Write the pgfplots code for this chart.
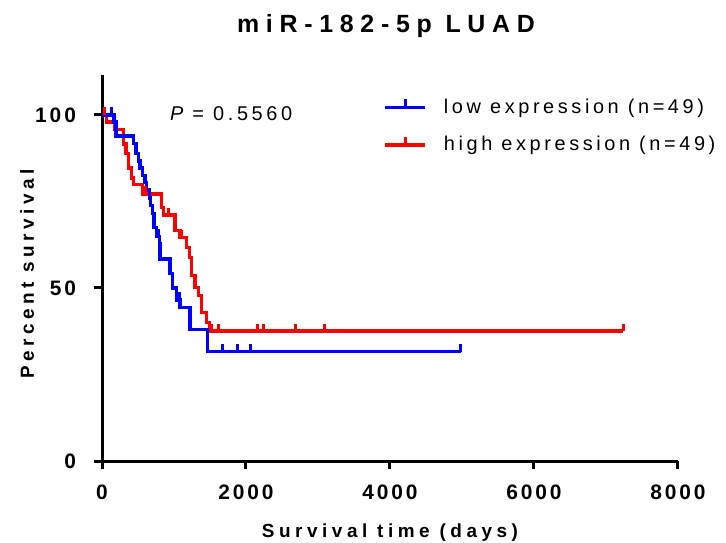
\documentclass[border=0pt]{standalone}
\usepackage{pgfplots}
\pgfplotsset{compat=1.18}
\usepackage{fontspec}
\setmainfont{Liberation Sans}
\newfontfamily\lsfont[LetterSpace=24]{Liberation Sans}
\newfontfamily\ttlfont[LetterSpace=27]{Liberation Sans}
\newfontfamily\tkfont[LetterSpace=14]{Liberation Sans}
\newfontfamily\lgfont[LetterSpace=18]{Liberation Sans}

% censored patients: short upward tick
\pgfdeclareplotmark{cens}{%
  \pgfpathmoveto{\pgfpointorigin}%
  \pgfpathlineto{\pgfpoint{0pt}{3.8bp}}%
  \pgfusepathqstroke}

\begin{document}
\begin{tikzpicture}
\useasboundingbox (-51bp,-41bp) rectangle (312bp,230.5bp);
\begin{axis}[
  at={(0,0)}, anchor=south west,
  scale only axis, width=288bp, height=193bp,
  xmin=0, xmax=8000, ymin=0, ymax=111.5,
  axis lines=left,
  axis line style={line width=1.5bp, -},
  xtick={0,2000,4000,6000,8000}, ytick={0,50,100},
  tick align=outside, major tick length=4bp,
  tick style={line width=1.5bp, black},
  /pgf/number format/assume math mode=true,
  /pgf/number format/1000 sep={},
  ticklabel style={font=\tkfont\bfseries\fontsize{10.5}{12}\selectfont},
  xticklabel style={yshift=-4.5bp},
  yticklabel style={xshift=-5.5bp},
  title={\ttlfont\bfseries\fontsize{12.5}{14}\selectfont miR-182-5p LUAD},
  title style={at={(rel axis cs:0.5,1)}, anchor=base, yshift=15.5bp, xshift=-2bp},
  xlabel={\lsfont\bfseries\fontsize{9.5}{11}\selectfont Survival time (days)},
  xlabel style={at={(rel axis cs:0.5,0)}, anchor=base, yshift=-38bp},
  ylabel={\lsfont\bfseries\fontsize{9.5}{11}\selectfont Percent survival},
  ylabel style={at={(rel axis cs:0,0.5)}, anchor=base, yshift=34bp, xshift=-3bp},
  legend style={at={(rel axis cs:0.488,0.95)}, anchor=north west,
    draw=none, fill=none, inner sep=0pt, row sep=6bp,
    font=\lgfont\fontsize{10}{12}\selectfont,
    /tikz/every odd column/.append style={column sep=6.5bp}},
  legend cell align=left,
  legend image code/.code={
    \draw[#1, line width=1.75bp] (0bp,0bp) -- (20bp,0bp);
    \draw[#1, line width=1.5bp] (10bp,0bp) -- (10bp,4bp);},
]
\addlegendimage{blue}
\addlegendentry{low expression (n=49)}
\addlegendimage{red}
\addlegendentry{high expression (n=49)}

% high expression
\addplot[red, line width=1.8bp, const plot, forget plot] coordinates {
  (0,100) (65,97.9) (181,95.8) (296,91.6) (333,88.8) (366,84.7) (412,81.8)
  (435,79.9) (565,77.2) (829,73.2) (852,71.0) (1014,66.6) (1083,64.6)
  (1176,61.7) (1213,58.8) (1245,53.6) (1292,50.1) (1338,47.8) (1384,42.9)
  (1450,40.0) (1491,37.5) (7240,37.5)
};
\addplot[red, only marks, mark=cens, line width=1.5bp, forget plot] coordinates {
  (30,100) (600,77.2) (920,71.0) (1100,64.6) (1300,50.1) (1523,37.5)
  (1625,37.5) (2163,37.5) (2240,37.5) (2681,37.5) (3097,37.5) (7240,37.5)
};

% low expression
\addplot[blue, line width=1.8bp, const plot, forget plot] coordinates {
  (0,100) (167,97.9) (194,93.8) (435,91.7) (472,88.8) (505,86.7) (528,84.6)
  (565,82.5) (597,80.4) (620,78.3) (657,76.0) (676,73.8) (699,71.5)
  (722,67.4) (759,64.8) (796,62.6) (806,58.4) (944,54.2) (981,49.9)
  (1037,46.5) (1083,44.3) (1222,38.0) (1463,31.6) (4986,31.6)
};
\addplot[blue, only marks, mark=cens, line width=1.5bp, forget plot] coordinates {
  (135,100) (480,88.8) (600,80.4) (790,64.8) (1070,46.5) (1676,31.6)
  (1884,31.6) (2065,31.6) (4986,31.6)
};

\node[anchor=base west, inner sep=0pt, font=\lgfont\fontsize{10}{12}\selectfont]
  at (axis cs:940,98.3) {\itshape P\upshape{} = 0.5560};
\end{axis}
\end{tikzpicture}
\end{document}
